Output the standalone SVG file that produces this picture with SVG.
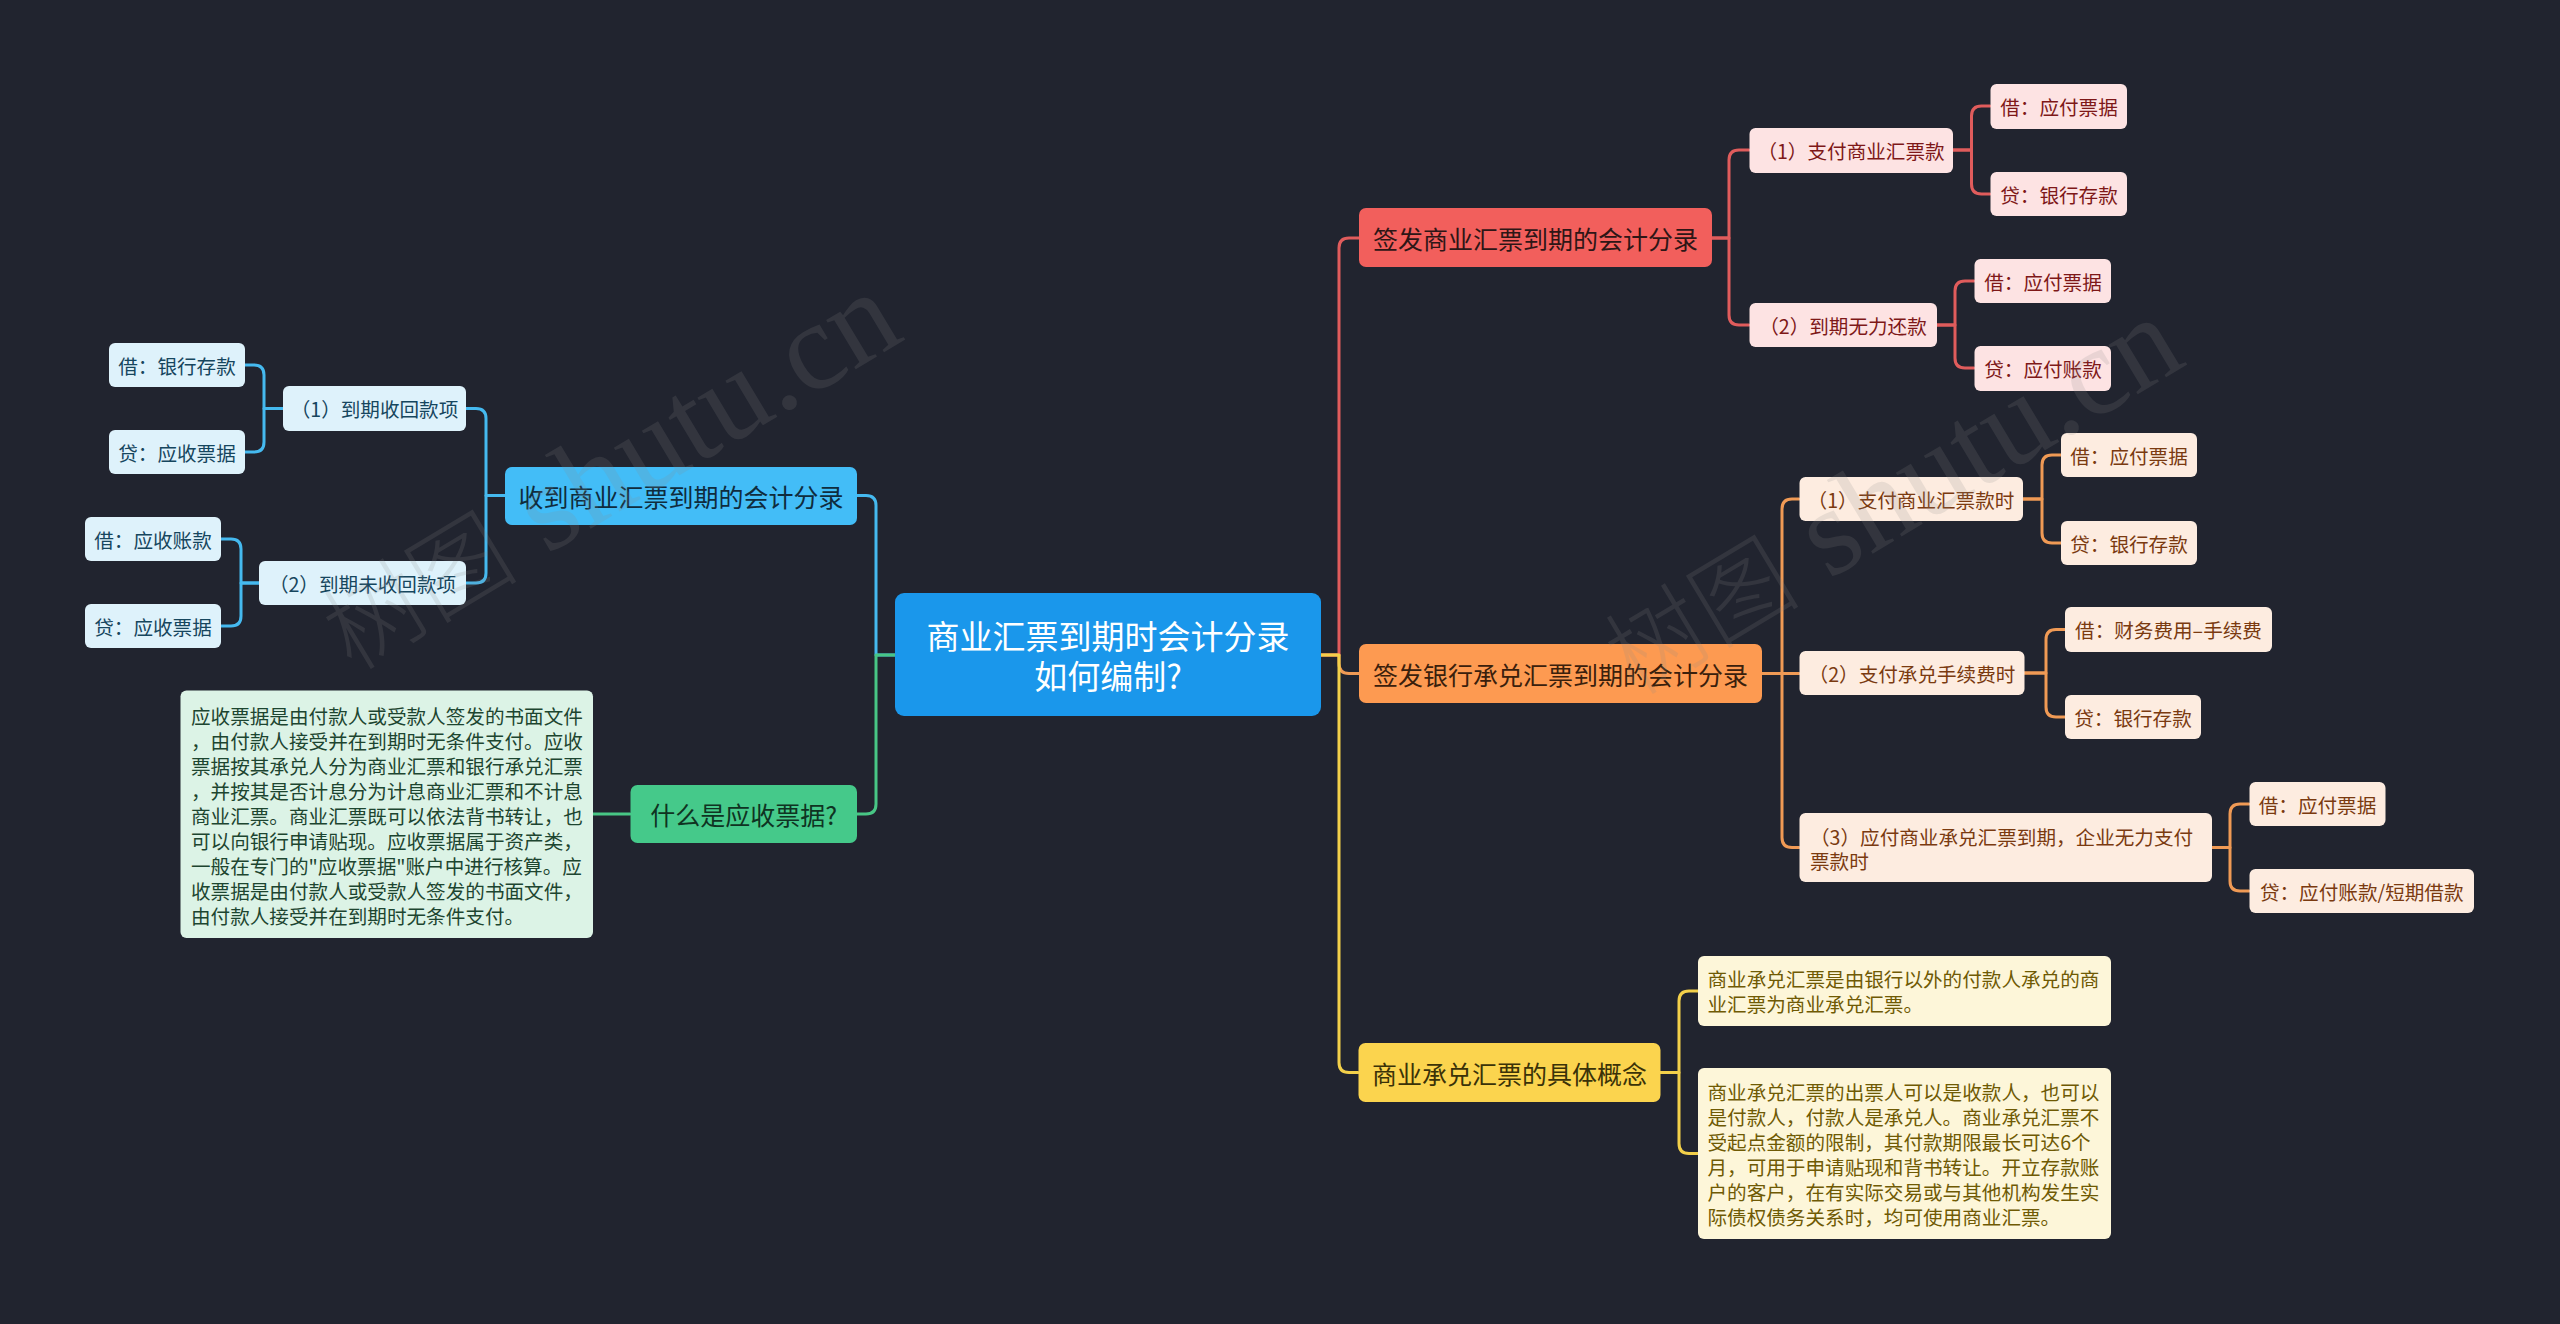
<svg xmlns="http://www.w3.org/2000/svg" width="2560" height="1324" viewBox="0 0 2560 1324">
<style>
text{font-family:"Noto Sans CJK SC","Noto Sans",sans-serif;}
.c{fill:none;stroke-width:3;stroke-linecap:round;stroke-linejoin:round}
.cr{stroke:#e05c5c}.co{stroke:#f09a55}.cy{stroke:#f3d04a}.cb{stroke:#45b9ef}.cg{stroke:#48c685}
.t{font-size:19.6px;dominant-baseline:central}
.m{font-size:25px;dominant-baseline:central;text-anchor:middle}
.mid{text-anchor:middle}
.lr{fill:#fde3e3}.tr{fill:#7e1818}
.lo{fill:#fdece0}.to{fill:#7a3a10}
.lb{fill:#def2fb}.tb{fill:#16465e}
.ly{fill:#fdf6d9}.ty{fill:#6f5a04}
.lg{fill:#dcf3e6}.tg{fill:#1d4530}
.wm{fill:#8a8a8a;opacity:0.17}
.wc{font-family:"Noto Sans CJK SC",sans-serif;font-size:98px;font-weight:300}
.ws{font-family:"Liberation Serif",serif;font-size:125px}
</style>
<rect width="2560" height="1324" fill="#21242f"/>
<g id="connectors">
<path class="c cr" d="M1321,655 H1339 V248 Q1339,238 1349,238 H1359"/>
<path class="c co" d="M1321,655 H1339 V663.5 Q1339,673.5 1349,673.5 H1359"/>
<path class="c cy" d="M1321,655 H1339 V1062.5 Q1339,1072.5 1349,1072.5 H1358"/>
<path class="c cb" d="M895,655 H876 V505.5 Q876,495.5 866,495.5 H857"/>
<path class="c cg" d="M895,655 H876 V804 Q876,814 866,814 H857"/>
<path class="c cr" d="M1712,238 H1729 V160 Q1729,150 1739,150 H1749"/>
<path class="c cr" d="M1712,238 H1729 V315 Q1729,325 1739,325 H1749"/>
<path class="c cr" d="M1953,150 H1971.5 V116 Q1971.5,106 1981.5,106 H1990"/>
<path class="c cr" d="M1953,150 H1971.5 V184 Q1971.5,194 1981.5,194 H1990"/>
<path class="c cr" d="M1937,325 H1955 V291 Q1955,281 1965,281 H1974"/>
<path class="c cr" d="M1937,325 H1955 V358 Q1955,368 1965,368 H1974"/>
<path class="c co" d="M1762,673.5 H1782 V509 Q1782,499 1792,499 H1799"/>
<path class="c co" d="M1762,673.5 H1799"/>
<path class="c co" d="M1782,673.5 V837.5 Q1782,847.5 1792,847.5 H1799"/>
<path class="c co" d="M2023,499 H2042 V465 Q2042,455 2052,455 H2061"/>
<path class="c co" d="M2023,499 H2042 V533 Q2042,543 2052,543 H2061"/>
<path class="c co" d="M2024,673 H2046 V639.5 Q2046,629.5 2056,629.5 H2065"/>
<path class="c co" d="M2024,673 H2046 V707 Q2046,717 2056,717 H2065"/>
<path class="c co" d="M2212,847.5 H2230 V814 Q2230,804 2240,804 H2249"/>
<path class="c co" d="M2212,847.5 H2230 V881 Q2230,891 2240,891 H2249"/>
<path class="c cy" d="M1660,1072.5 H1679 V1001 Q1679,991 1689,991 H1698"/>
<path class="c cy" d="M1660,1072.5 H1679 V1143.5 Q1679,1153.5 1689,1153.5 H1698"/>
<path class="c cb" d="M505,495.5 H486 V418.5 Q486,408.5 476,408.5 H466"/>
<path class="c cb" d="M505,495.5 H486 V573 Q486,583 476,583 H466"/>
<path class="c cb" d="M283,408.5 H264 V375 Q264,365 254,365 H245"/>
<path class="c cb" d="M283,408.5 H264 V442 Q264,452 254,452 H245"/>
<path class="c cb" d="M259,583 H241 V549 Q241,539 231,539 H221"/>
<path class="c cb" d="M259,583 H241 V616 Q241,626 231,626 H221"/>
<path class="c cg" d="M630,814 H593"/>
</g>
<g id="center">
<rect x="895" y="593" width="426" height="123" rx="9" fill="#1a97eb"/>
<text class="mid" x="1108" y="635" font-size="33" fill="#ffffff" dominant-baseline="central">商业汇票到期时会计分录</text>
<text class="mid" x="1108" y="675" font-size="33" fill="#ffffff" dominant-baseline="central">如何编制?</text>
</g>
<g id="red-main">
<rect x="1359" y="208" width="353" height="59" rx="7" fill="#f25f5c"/>
<text class="m" x="1535.5" y="238" fill="#2e1616">签发商业汇票到期的会计分录</text>
</g>
<g id="red-1">
<rect class="lr" x="1749.5" y="128" width="203.5" height="45" rx="6"/>
<text class="t tr mid" x="1851" y="150.5">（1）支付商业汇票款</text>
</g>
<g id="red-1a">
<rect class="lr" x="1990.5" y="84" width="136.5" height="45" rx="6"/>
<text class="t tr mid" x="2059" y="106.5">借：应付票据</text>
</g>
<g id="red-1b">
<rect class="lr" x="1990.5" y="172" width="136.5" height="44" rx="6"/>
<text class="t tr mid" x="2059" y="194">贷：银行存款</text>
</g>
<g id="red-2">
<rect class="lr" x="1749.5" y="303" width="187.5" height="44" rx="6"/>
<text class="t tr mid" x="1843" y="325">（2）到期无力还款</text>
</g>
<g id="red-2a">
<rect class="lr" x="1974.5" y="259" width="136.5" height="44" rx="6"/>
<text class="t tr mid" x="2043" y="281">借：应付票据</text>
</g>
<g id="red-2b">
<rect class="lr" x="1974.5" y="346" width="136.5" height="45" rx="6"/>
<text class="t tr mid" x="2043" y="368.5">贷：应付账款</text>
</g>
<g id="orange-main">
<rect x="1359" y="644" width="403" height="59" rx="7" fill="#fd9a51"/>
<text class="m" x="1560.5" y="673.5" fill="#3a200c">签发银行承兑汇票到期的会计分录</text>
</g>
<g id="orange-1">
<rect class="lo" x="1799.5" y="477" width="223.5" height="44" rx="6"/>
<text class="t to mid" x="1911" y="499">（1）支付商业汇票款时</text>
</g>
<g id="orange-1a">
<rect class="lo" x="2061" y="433" width="136" height="44" rx="6"/>
<text class="t to mid" x="2129" y="455">借：应付票据</text>
</g>
<g id="orange-1b">
<rect class="lo" x="2061" y="521" width="136" height="44" rx="6"/>
<text class="t to mid" x="2129" y="543">贷：银行存款</text>
</g>
<g id="orange-2">
<rect class="lo" x="1799.5" y="651" width="225" height="44" rx="6"/>
<text class="t to mid" x="1912" y="673">（2）支付承兑手续费时</text>
</g>
<g id="orange-2a">
<rect class="lo" x="2065" y="607" width="207" height="45" rx="6"/>
<text class="t to mid" x="2168.5" y="629.5">借：财务费用–手续费</text>
</g>
<g id="orange-2b">
<rect class="lo" x="2065" y="695" width="136" height="44" rx="6"/>
<text class="t to mid" x="2133" y="717">贷：银行存款</text>
</g>
<g id="orange-3">
<rect class="lo" x="1799.5" y="813" width="412.5" height="69" rx="6"/>
<text class="t to" x="1810" y="836">（3）应付商业承兑汇票到期，企业无力支付</text>
<text class="t to" x="1810" y="860">票款时</text>
</g>
<g id="orange-3a">
<rect class="lo" x="2249.5" y="782" width="136" height="44" rx="6"/>
<text class="t to mid" x="2317.5" y="804">借：应付票据</text>
</g>
<g id="orange-3b">
<rect class="lo" x="2249.5" y="869" width="224.5" height="44" rx="6"/>
<text class="t to mid" x="2361.75" y="891">贷：应付账款/短期借款</text>
</g>
<g id="yellow-main">
<rect x="1358.5" y="1043" width="302" height="59" rx="7" fill="#fbd44e"/>
<text class="m" x="1509.5" y="1072.5" fill="#3a3208">商业承兑汇票的具体概念</text>
</g>
<g id="yellow-1">
<rect class="ly" x="1698" y="956" width="413" height="70" rx="6"/>
<text class="t ty" x="1707.5" y="978.5">商业承兑汇票是由银行以外的付款人承兑的商</text>
<text class="t ty" x="1707.5" y="1003.5">业汇票为商业承兑汇票。</text>
</g>
<g id="yellow-2">
<rect class="ly" x="1698" y="1068" width="413" height="171" rx="6"/>
<text class="t ty" x="1707.5" y="1091">商业承兑汇票的出票人可以是收款人，也可以</text>
<text class="t ty" x="1707.5" y="1116">是付款人，付款人是承兑人。商业承兑汇票不</text>
<text class="t ty" x="1707.5" y="1141">受起点金额的限制，其付款期限最长可达6个</text>
<text class="t ty" x="1707.5" y="1166">月，可用于申请贴现和背书转让。开立存款账</text>
<text class="t ty" x="1707.5" y="1191">户的客户，在有实际交易或与其他机构发生实</text>
<text class="t ty" x="1707.5" y="1216">际债权债务关系时，均可使用商业汇票。</text>
</g>
<g id="blue-main">
<rect x="505" y="467" width="352" height="58" rx="7" fill="#43bdf7"/>
<text class="m" x="681" y="496" fill="#0f2c3e">收到商业汇票到期的会计分录</text>
</g>
<g id="blue-1">
<rect class="lb" x="283" y="386" width="183" height="45" rx="6"/>
<text class="t tb mid" x="374.5" y="408.5">（1）到期收回款项</text>
</g>
<g id="blue-1a">
<rect class="lb" x="109" y="343" width="136" height="44" rx="6"/>
<text class="t tb mid" x="177" y="365">借：银行存款</text>
</g>
<g id="blue-1b">
<rect class="lb" x="109" y="430" width="136" height="44" rx="6"/>
<text class="t tb mid" x="177" y="452">贷：应收票据</text>
</g>
<g id="blue-2">
<rect class="lb" x="259" y="561" width="207" height="44" rx="6"/>
<text class="t tb mid" x="362.5" y="583">（2）到期未收回款项</text>
</g>
<g id="blue-2a">
<rect class="lb" x="85" y="517" width="136" height="44" rx="6"/>
<text class="t tb mid" x="153" y="539">借：应收账款</text>
</g>
<g id="blue-2b">
<rect class="lb" x="85" y="604" width="136" height="44" rx="6"/>
<text class="t tb mid" x="153" y="626">贷：应收票据</text>
</g>
<g id="green-main">
<rect x="630.5" y="785" width="226.5" height="58" rx="7" fill="#45c98a"/>
<text class="m" x="743.75" y="814" fill="#0f3322">什么是应收票据?</text>
</g>
<g id="green-1">
<rect class="lg" x="180.5" y="690.5" width="412.5" height="247.5" rx="6"/>
<text class="t tg" x="191" y="715">应收票据是由付款人或受款人签发的书面文件</text>
<text class="t tg" x="191" y="740">，由付款人接受并在到期时无条件支付。应收</text>
<text class="t tg" x="191" y="765">票据按其承兑人分为商业汇票和银行承兑汇票</text>
<text class="t tg" x="191" y="790">，并按其是否计息分为计息商业汇票和不计息</text>
<text class="t tg" x="191" y="815">商业汇票。商业汇票既可以依法背书转让，也</text>
<text class="t tg" x="191" y="840">可以向银行申请贴现。应收票据属于资产类，</text>
<text class="t tg" x="191" y="865">一般在专门的"应收票据"账户中进行核算。应</text>
<text class="t tg" x="191" y="890">收票据是由付款人或受款人签发的书面文件，</text>
<text class="t tg" x="191" y="915">由付款人接受并在到期时无条件支付。</text>
</g>
<g id="watermarks">
<text class="wm" transform="translate(352,672) rotate(-31)"><tspan class="wc">树图</tspan><tspan class="ws"> shutu.cn</tspan></text>
<text class="wm" transform="translate(1634,697) rotate(-31)"><tspan class="wc">树图</tspan><tspan class="ws"> shutu.cn</tspan></text>
</g>
</svg>
